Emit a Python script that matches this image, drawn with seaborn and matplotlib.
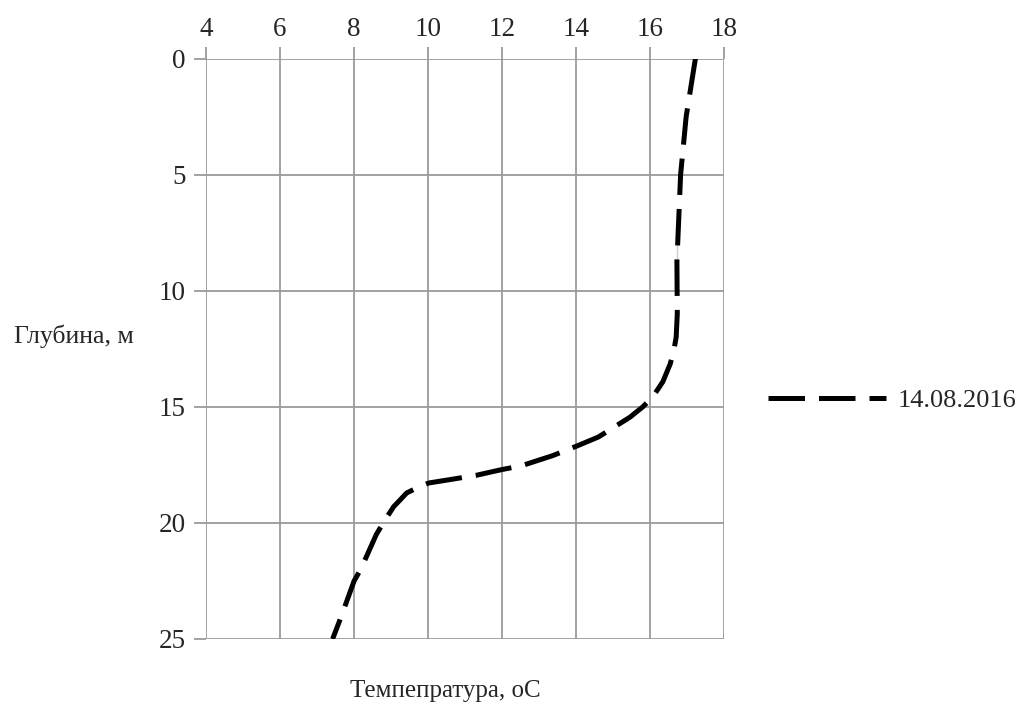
import matplotlib
matplotlib.use("Agg")
import matplotlib.pyplot as plt
import seaborn as sns
import pandas as pd

# Data
depth_m = [0, 2.5, 5, 7.5, 10, 11, 12, 12.55, 13.15, 13.92, 14.57, 15, 15.45,
           15.9, 16.3, 16.7, 17.1, 17.55, 17.7, 17.95, 18.12, 18.28, 18.43,
           18.71, 19.0, 19.3, 19.94, 20.5, 22.0, 22.5, 24, 25]
temp_c = [17.22, 16.97, 16.82, 16.72, 16.72, 16.73, 16.7, 16.64, 16.54, 16.34,
          16.07, 15.8, 15.45, 15.0, 14.6, 14.0, 13.37, 12.5, 12.0, 11.3, 10.65,
          10.02, 9.78, 9.42, 9.25, 9.07, 8.81, 8.6, 8.18, 8.0, 7.66, 7.42]
series_label = "14.08.2016"
x_ticks = [4, 6, 8, 10, 12, 14, 16, 18]
y_ticks = [0, 5, 10, 15, 20, 25]

sns.set_theme(style="white")
plt.rcParams['font.family'] = ['Liberation Serif', 'DejaVu Serif']

df = pd.DataFrame({"temp": temp_c, "depth": depth_m})

fig = plt.figure(figsize=(10.23, 7.08), dpi=100)
ax = fig.add_axes([206 / 1023, 1 - 639 / 708, (724.3 - 206) / 1023, (639 - 58.5) / 708])

sns.lineplot(data=df, x="temp", y="depth", sort=False, ax=ax, color="black",
             linewidth=3.6, linestyle=(0, (7.3, 2.8)), label=series_label)

ax.set_xlim(4, 18)
ax.set_ylim(25, 0)
ax.set_xticks(x_ticks)
ax.set_yticks(y_ticks)
ax.xaxis.tick_top()
grid_col = "#9b9b9b"
ax.grid(True, color=grid_col, linewidth=1.3)
for s in ax.spines.values():
    s.set_visible(False)
ax.tick_params(axis="both", which="major", length=8.5, width=1.3, color=grid_col,
               labelsize=19.5, pad=6)
ax.tick_params(axis="x", top=True, bottom=False, labeltop=True, labelbottom=False, pad=3.5)
ax.tick_params(axis="y", left=True)
ax.set_xlabel("")
ax.set_ylabel("")

fig.text(14 / 1023, 1 - 336 / 708, "Глубина, м", fontsize=18.5, ha="left", va="center")
fig.text(445 / 1023, 1 - 691 / 708, "Темпепратура, оС", fontsize=18, ha="center", va="center")

leg = ax.legend(loc="center left", bbox_to_anchor=(744 / 1023, 1 - 400 / 708),
                bbox_transform=fig.transFigure, frameon=False, fontsize=19,
                handlelength=4.47, handletextpad=0.45)

fig.savefig("out.png", dpi=100)
